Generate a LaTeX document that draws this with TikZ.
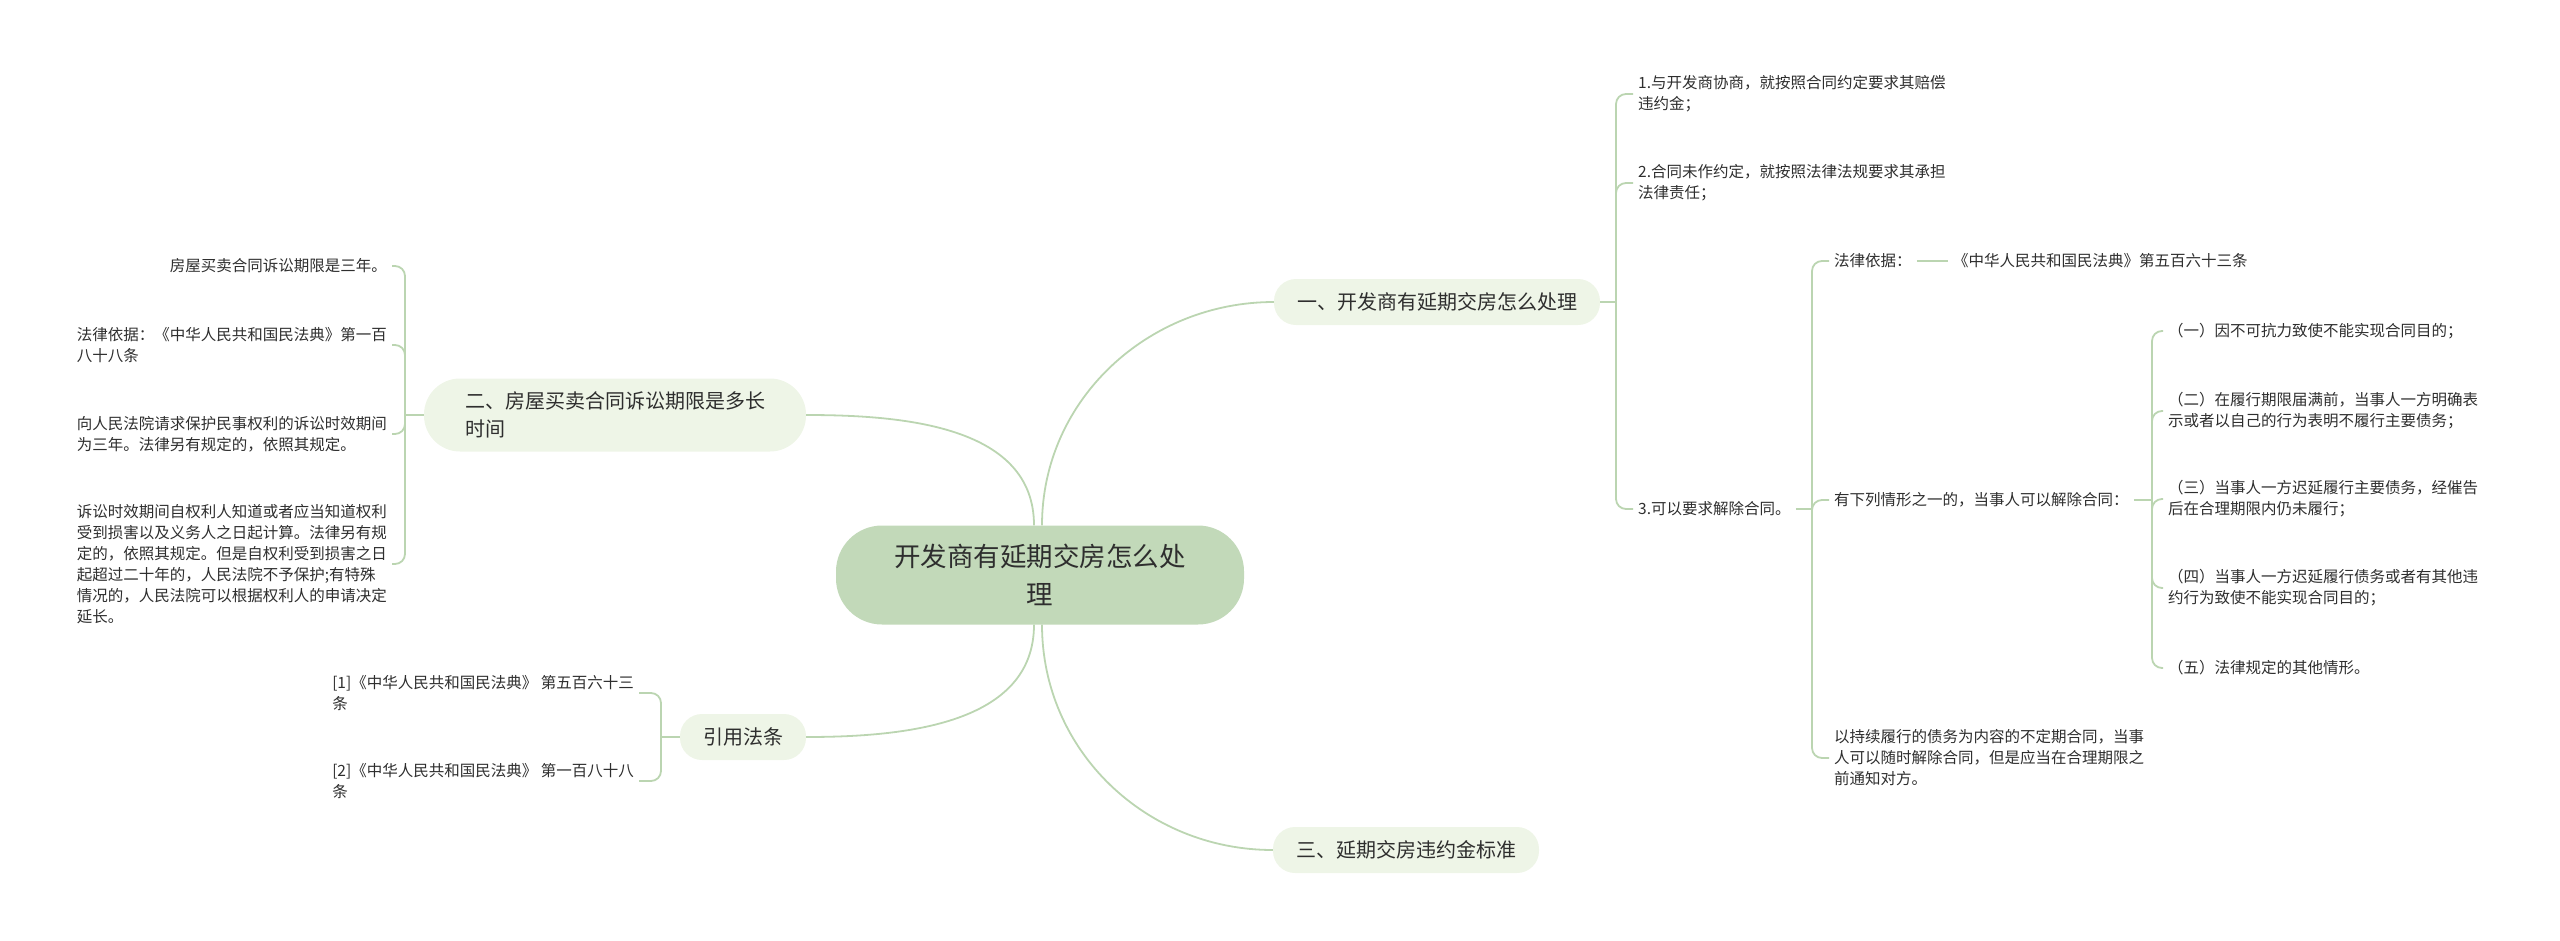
\documentclass[tikz,border=0pt]{standalone}
\usepackage{fontspec}
\setmainfont{Noto Sans CJK SC}

\definecolor{rootfill}{HTML}{C2D9B9}
\definecolor{topicfill}{HTML}{EEF5E7}
\definecolor{linkgreen}{HTML}{BBD5B1}
\definecolor{inkgray}{HTML}{2E2E2E}

\tikzset{
  rootbox/.style={fill=rootfill, rounded corners=46pt, minimum width=408pt,
    minimum height=99pt, align=center, text=inkgray,
    font=\fontsize{26.5}{37.5}\selectfont},
  topic/.style={fill=topicfill, rounded corners=22pt, minimum height=46pt,
    inner xsep=23pt, text=inkgray, font=\fontsize{20}{28}\selectfont},
  leaf/.style={inner sep=0pt, inner xsep=5pt, align=left, text=inkgray,
    font=\fontsize{15.5}{21}\selectfont},
  link/.style={draw=linkgreen, line width=1.8pt},
  hook/.style={link, rounded corners=10pt},
}

\begin{document}
\begin{tikzpicture}[x=1pt, y=-1pt]

  \useasboundingbox (0,0) rectangle (2560,940);

  % --- centro ---
  \node[rootbox] (root) at (1040,575) {开发商有延期交房怎么处\\理};

  % --- rami ---
  \node[topic] (b1) at (1437,302) {一、开发商有延期交房怎么处理};
  \node[topic, rounded corners=36pt, minimum height=73pt, inner xsep=41pt,
    align=left] (b2) at (615,415) {二、房屋买卖合同诉讼期限是多长\\时间};
  \node[topic] (b3) at (1406,850) {三、延期交房违约金标准};
  \node[topic] (cite) at (743,737) {引用法条};

  \draw[link] ([xshift=-6pt]root.north) to[out=90, in=0] (b2.east);
  \draw[link] ([xshift=2pt]root.north) to[out=90, in=180] (b1.west);
  \draw[link] ([xshift=-6pt]root.south) to[out=-90, in=0] (cite.east);
  \draw[link] ([xshift=2pt]root.south) to[out=-90, in=180] (b3.west);

  % --- ramo 1 ---
  \coordinate (j1) at (1616,302);
  \node[leaf, anchor=west] (c11) at (1633,94)
    {1.与开发商协商，就按照合同约定要求其赔偿\\违约金；};
  \node[leaf, anchor=west] (c12) at (1633,183)
    {2.合同未作约定，就按照法律法规要求其承担\\法律责任；};
  \node[leaf, anchor=west] (c13) at (1633,509) {3.可以要求解除合同。};
  \draw[link] (b1.east) -- (j1);
  \foreach \c in {c11,c12,c13}
    \draw[hook] (j1) |- (\c.west);

  % --- 3.解除合同 ---
  \coordinate (j13) at (1812,509);
  \node[leaf, anchor=west] (c131) at (1829,261) {法律依据：};
  \node[leaf, anchor=west] (c1311) at (1948,261) {《中华人民共和国民法典》第五百六十三条};
  \node[leaf, anchor=west] (c132) at (1829,500) {有下列情形之一的，当事人可以解除合同：};
  \node[leaf, anchor=west] (c133) at (1829,758)
    {以持续履行的债务为内容的不定期合同，当事\\人可以随时解除合同，但是应当在合理期限之\\前通知对方。};
  \draw[link] (c13.east) -- (j13);
  \foreach \c in {c131,c132,c133}
    \draw[hook] (j13) |- (\c.west);
  \draw[link] (c131.east) -- (c1311.west);

  % ---情形 ---
  \coordinate (j132) at (2152,500);
  \node[leaf, anchor=west] (c1321) at (2163,331) {（一）因不可抗力致使不能实现合同目的；};
  \node[leaf, anchor=west] (c1322) at (2163,411)
    {（二）在履行期限届满前，当事人一方明确表\\示或者以自己的行为表明不履行主要债务；};
  \node[leaf, anchor=west] (c1323) at (2163,499)
    {（三）当事人一方迟延履行主要债务，经催告\\后在合理期限内仍未履行；};
  \node[leaf, anchor=west] (c1324) at (2163,588)
    {（四）当事人一方迟延履行债务或者有其他违\\约行为致使不能实现合同目的；};
  \node[leaf, anchor=west] (c1325) at (2163,668) {（五）法律规定的其他情形。};
  \draw[link] (c132.east) -- (j132);
  \foreach \c in {c1321,c1322,c1323,c1324,c1325}
    \draw[hook] (j132) |- (\c.west);

  % --- ramo 2 ---
  \coordinate (j2) at (405,415);
  \node[leaf, anchor=east] (c21) at (392,266) {房屋买卖合同诉讼期限是三年。};
  \node[leaf, anchor=east] (c22) at (392,345)
    {法律依据：《中华人民共和国民法典》第一百\\八十八条};
  \node[leaf, anchor=east] (c23) at (392,434)
    {向人民法院请求保护民事权利的诉讼时效期间\\为三年。法律另有规定的，依照其规定。};
  \node[leaf, anchor=east] (c24) at (392,564)
    {诉讼时效期间自权利人知道或者应当知道权利\\受到损害以及义务人之日起计算。法律另有规\\定的，依照其规定。但是自权利受到损害之日\\起超过二十年的，人民法院不予保护;有特殊\\情况的，人民法院可以根据权利人的申请决定\\延长。};
  \draw[link] (b2.west) -- (j2);
  \foreach \c in {c21,c22,c23,c24}
    \draw[hook] (j2) |- (\c.east);

  % ---引用法条 ---
  \coordinate (j3) at (661,737);
  \node[leaf, anchor=east] (r1) at (639,693)
    {[1]《中华人民共和国民法典》 第五百六十三\\条};
  \node[leaf, anchor=east] (r2) at (639,781)
    {[2]《中华人民共和国民法典》 第一百八十八\\条};
  \draw[link] (cite.west) -- (j3);
  \foreach \c in {r1,r2}
    \draw[hook] (j3) |- (\c.east);

\end{tikzpicture}
\end{document}
